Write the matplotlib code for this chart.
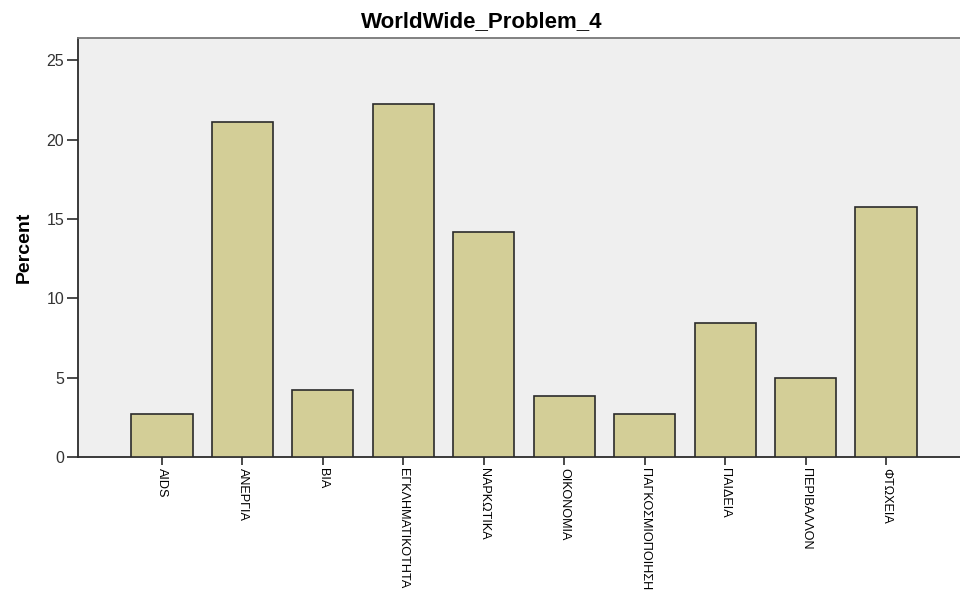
import matplotlib
matplotlib.use("Agg")
import matplotlib.pyplot as plt

categories = ["AIDS", "ΑΝΕΡΓΙΑ", "ΒΙΑ", "ΕΓΚΛΗΜΑΤΙΚΟΤΗΤΑ", "ΝΑΡΚΩΤΙΚΑ",
              "ΟΙΚΟΝΟΜΙΑ", "ΠΑΓΚΟΣΜΙΟΠΟΙΗΣΗ", "ΠΑΙΔΕΙΑ", "ΠΕΡΙΒΑΛΛΟΝ", "ΦΤΩΧΕΙΑ"]
percent = [2.69, 21.1, 4.22, 22.26, 14.19, 3.84, 2.69, 8.44, 4.97, 15.74]
yticks = [0, 5, 10, 15, 20, 25]

plt.rcParams['font.family'] = ['Liberation Sans', 'DejaVu Sans']

fig = plt.figure(figsize=(9.6, 5.95), dpi=100)
ax = fig.add_axes([78/960, 1-457/595, 1-78/960, (457-38)/595])
ax.set_facecolor('#efefef')

x = list(range(len(categories)))
ax.bar(x, percent, width=0.76, color='#d3ce97', edgecolor='#2b2b2b', linewidth=1.2, zorder=3)

ax.set_xlim(-1.045, 9.92)
ax.set_ylim(0, 26.4)
ax.set_yticks(yticks)
ax.set_xticks(x)
ax.set_xticklabels(categories, rotation=270, fontsize=9.1, va='top', ha='center')
ax.tick_params(axis='y', length=8, width=1.2, color='#2b2b2b', labelsize=11.5, labelcolor='#333333', pad=2)
ax.tick_params(axis='x', length=6, width=1.2, color='#2b2b2b', pad=2)

for s in ['left', 'bottom']:
    ax.spines[s].set_color('#2b2b2b')
    ax.spines[s].set_linewidth(1.3)
ax.spines['top'].set_color('#777777')
ax.spines['top'].set_linewidth(1.3)
ax.spines['right'].set_visible(False)

ax.set_ylabel('Percent', fontsize=14, fontweight='bold', labelpad=10)
fig.text(0.502, 1-22/595, 'WorldWide_Problem_4', fontsize=16, fontweight='bold', ha='center', va='center')

fig.savefig('out.png', dpi=100)
